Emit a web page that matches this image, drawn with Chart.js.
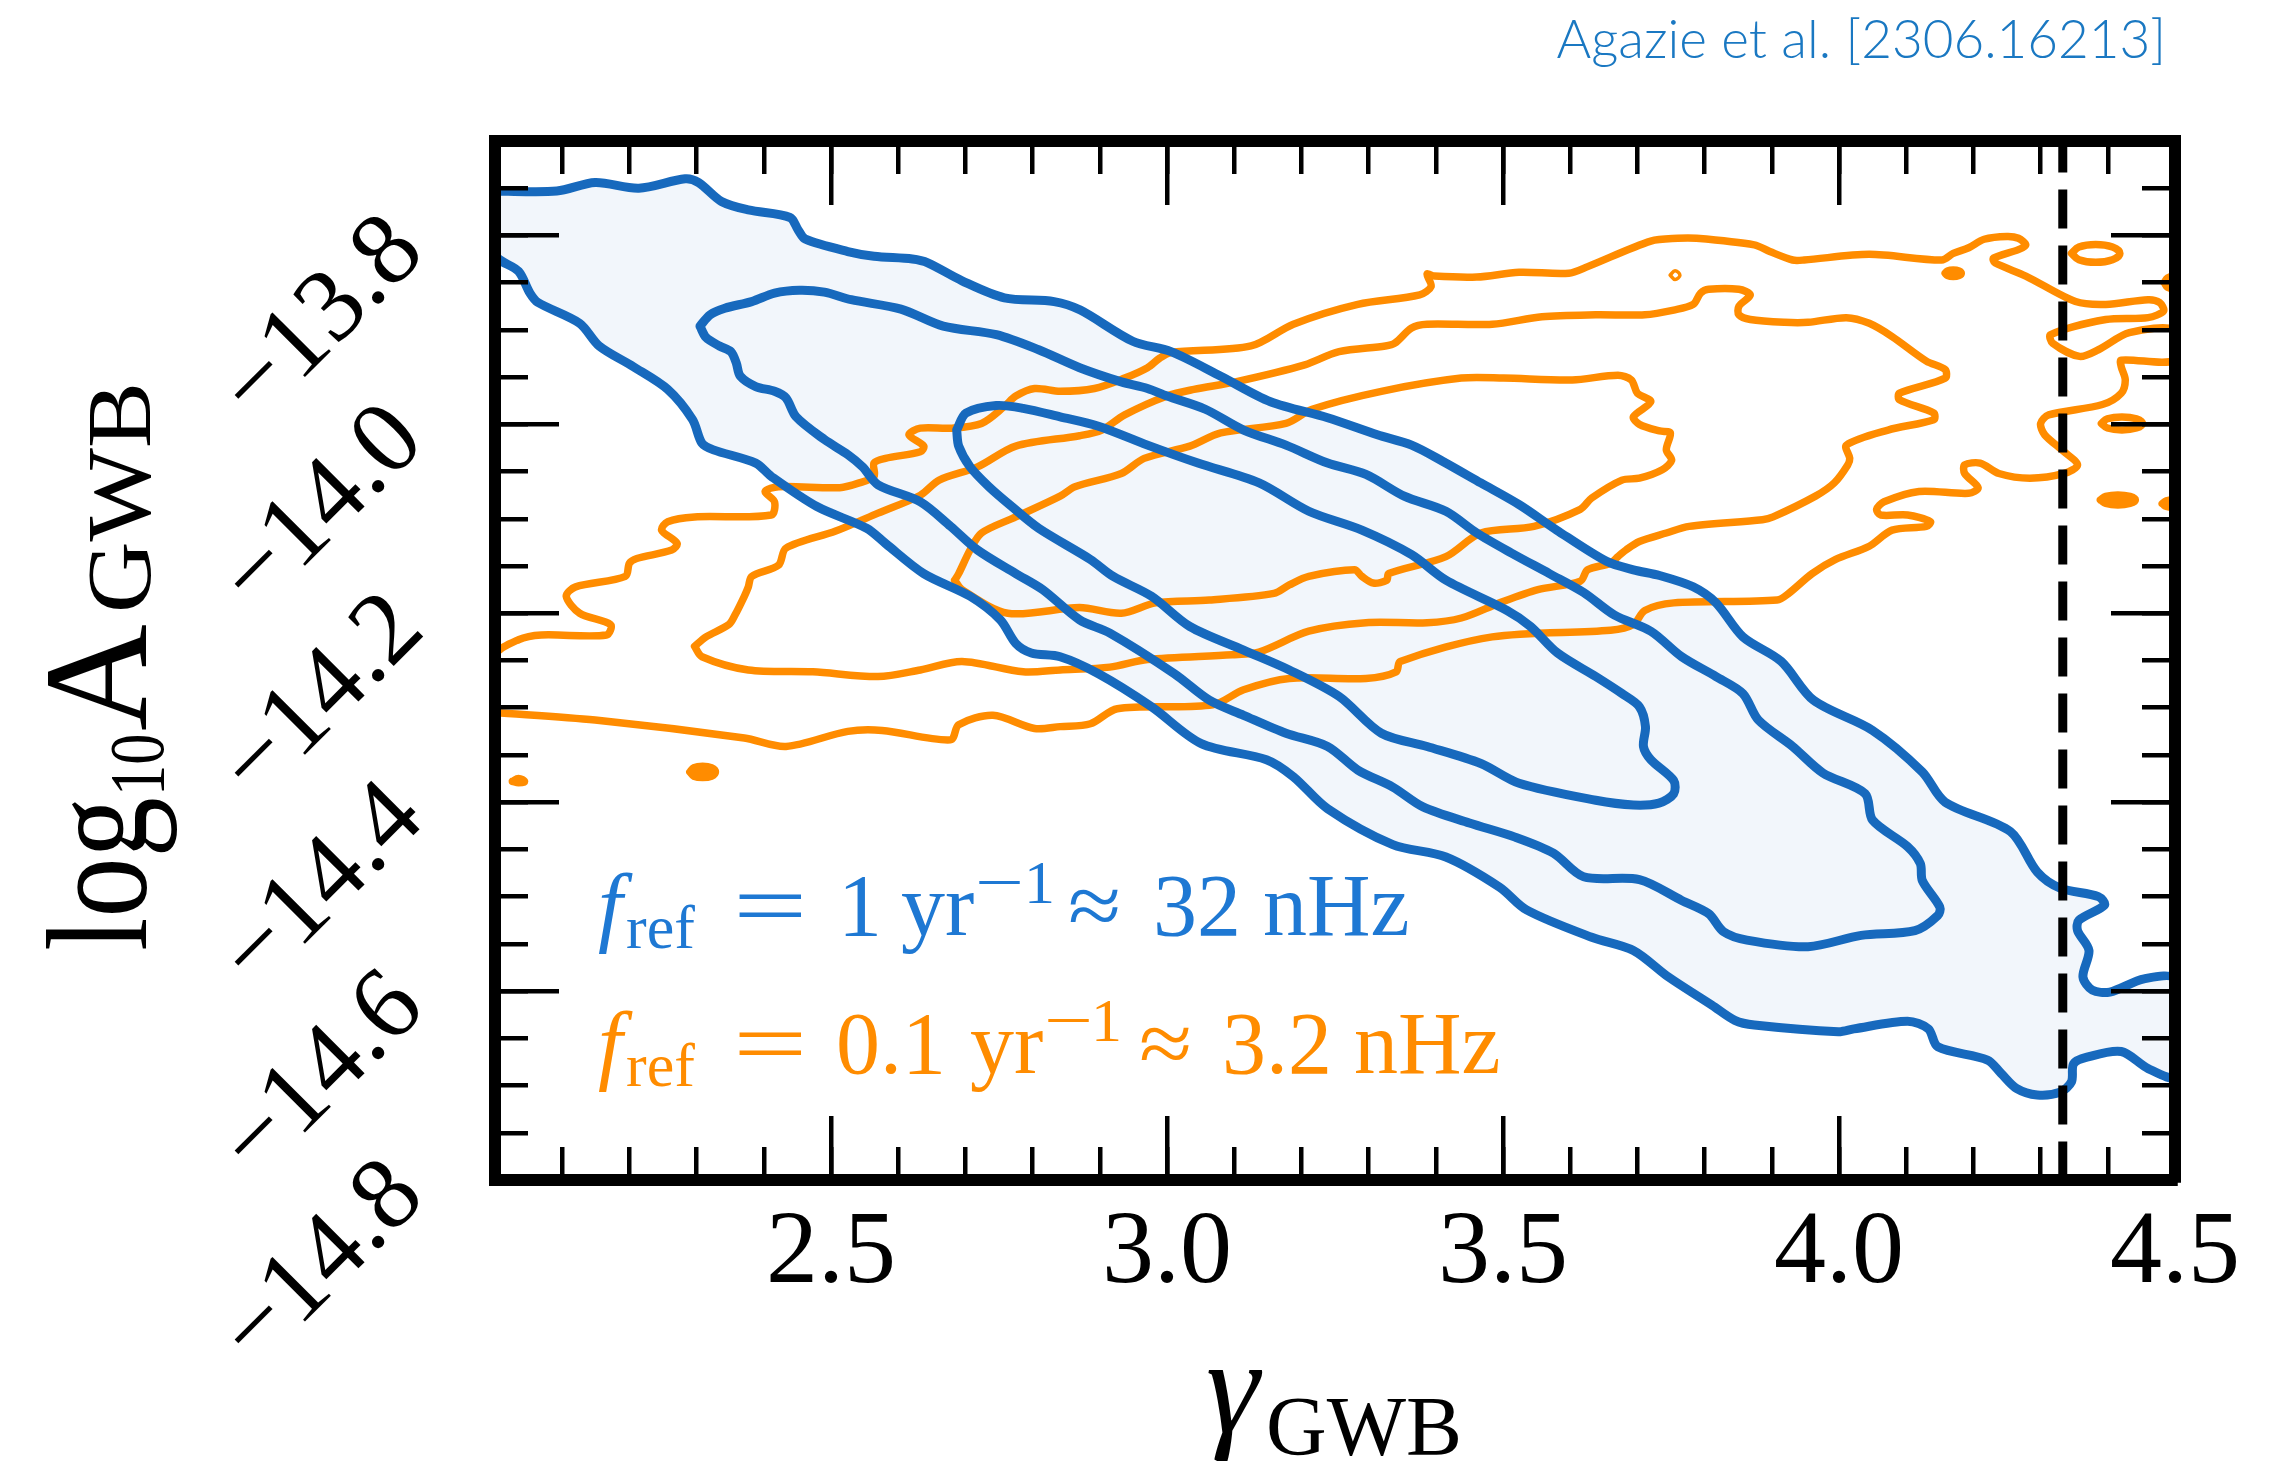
<!DOCTYPE html>
<html>
<head>
<meta charset="utf-8">
<title>GWB amplitude vs spectral index</title>
<script src="https://cdn.jsdelivr.net/npm/chart.js@4.4.1/dist/chart.umd.min.js"></script>
<style>
  html, body { margin: 0; padding: 0; background: #fff; }
  #wrap { width: 2295px; height: 1470px; }
</style>
</head>
<body>
<div id="wrap"><canvas id="chart" width="2295" height="1470"></canvas></div>
<script>
/* ------------------ Axis ranges & tick labels ------------------ */
const gammaRange  = [2.0, 4.5];
const log10ARange = [-14.8, -13.7];
const gammaTicks  = [2.5, 3.0, 3.5, 4.0, 4.5];
const log10ATicks = [-13.8, -14.0, -14.2, -14.4, -14.6, -14.8];
const gammaBound  = 4.333;   // dashed vertical reference line

/* ------------------ Contours, f_ref = 1/yr (blue) ------------------ */
// points are [gamma, log10 A]
const blueOuter = [
  [2.0,-13.753],[2.092,-13.753],[2.149,-13.744],[2.214,-13.750],[2.283,-13.740],[2.303,-13.744],
  [2.337,-13.764],[2.377,-13.773],[2.439,-13.781],[2.451,-13.794],[2.462,-13.804],[2.525,-13.817],
  [2.564,-13.822],[2.621,-13.825],[2.644,-13.829],[2.695,-13.848],[2.758,-13.866],[2.832,-13.870],
  [2.871,-13.879],[2.949,-13.912],[3.006,-13.923],[3.080,-13.949],[3.154,-13.976],[3.239,-13.993],
  [3.313,-14.011],[3.364,-14.022],[3.410,-14.039],[3.467,-14.062],[3.524,-14.085],[3.580,-14.112],
  [3.654,-14.145],[3.694,-14.154],[3.733,-14.160],[3.783,-14.172],[3.817,-14.189],[3.857,-14.225],
  [3.914,-14.251],[3.962,-14.292],[4.050,-14.324],[4.124,-14.368],[4.158,-14.400],[4.255,-14.431],
  [4.295,-14.474],[4.329,-14.491],[4.386,-14.500],[4.395,-14.509],[4.357,-14.525],[4.355,-14.536],
  [4.372,-14.557],[4.363,-14.585],[4.377,-14.599],[4.403,-14.601],[4.454,-14.587],[4.5,-14.588],
  [4.5,-14.690],[4.460,-14.682],[4.420,-14.664],[4.369,-14.670],[4.349,-14.677],[4.346,-14.696],
  [4.329,-14.707],[4.295,-14.710],[4.264,-14.703],[4.241,-14.687],[4.221,-14.673],[4.147,-14.659],
  [4.133,-14.640],[4.102,-14.632],[4.022,-14.640],[3.999,-14.643],[3.874,-14.636],[3.845,-14.631],
  [3.811,-14.615],[3.746,-14.585],[3.694,-14.557],[3.632,-14.543],[3.535,-14.514],[3.495,-14.490],
  [3.415,-14.458],[3.336,-14.445],[3.239,-14.407],[3.188,-14.373],[3.148,-14.355],[3.051,-14.338],
  [2.977,-14.299],[2.898,-14.264],[2.841,-14.246],[2.798,-14.242],[2.775,-14.232],[2.752,-14.207],
  [2.707,-14.182],[2.638,-14.158],[2.581,-14.126],[2.553,-14.110],[2.479,-14.087],[2.411,-14.055],
  [2.388,-14.041],[2.325,-14.027],[2.308,-14.020],[2.294,-13.995],[2.257,-13.963],[2.206,-13.939],
  [2.155,-13.917],[2.126,-13.893],[2.064,-13.871],[2.052,-13.861],[2.035,-13.838],[2.0,-13.820],
  [2.0,-13.753]
];
const blueMiddle = [
  [2.305,-13.896],[2.320,-13.884],[2.342,-13.877],[2.382,-13.870],[2.416,-13.861],[2.453,-13.858],
  [2.490,-13.860],[2.530,-13.868],[2.604,-13.878],[2.667,-13.896],[2.746,-13.905],[2.809,-13.921],
  [2.870,-13.940],[2.932,-13.955],[2.971,-13.962],[3.000,-13.970],[3.057,-13.984],[3.114,-14.006],
  [3.177,-14.022],[3.239,-14.041],[3.296,-14.053],[3.353,-14.076],[3.415,-14.092],[3.461,-14.115],
  [3.512,-14.136],[3.569,-14.158],[3.620,-14.178],[3.666,-14.202],[3.720,-14.219],[3.766,-14.246],
  [3.817,-14.267],[3.857,-14.285],[3.880,-14.313],[3.931,-14.341],[3.976,-14.369],[4.039,-14.391],
  [4.050,-14.419],[4.102,-14.447],[4.121,-14.465],[4.124,-14.483],[4.150,-14.511],[4.147,-14.520],
  [4.113,-14.536],[4.033,-14.541],[3.954,-14.553],[3.863,-14.546],[3.828,-14.537],[3.806,-14.518],
  [3.766,-14.504],[3.703,-14.482],[3.620,-14.479],[3.575,-14.454],[3.518,-14.437],[3.450,-14.422],
  [3.381,-14.405],[3.336,-14.384],[3.284,-14.366],[3.239,-14.341],[3.177,-14.327],[3.114,-14.308],
  [3.063,-14.292],[3.011,-14.264],[2.915,-14.221],[2.870,-14.207],[2.815,-14.175],[2.775,-14.158],
  [2.718,-14.133],[2.678,-14.108],[2.633,-14.082],[2.570,-14.064],[2.547,-14.045],[2.525,-14.032],
  [2.490,-14.016],[2.448,-13.992],[2.433,-13.972],[2.416,-13.965],[2.388,-13.960],[2.365,-13.949],
  [2.359,-13.935],[2.351,-13.923],[2.334,-13.917],[2.314,-13.908],[2.305,-13.896]
];
const blueInner = [
  [2.687,-14.006],[2.701,-13.988],[2.746,-13.980],[2.786,-13.983],[2.841,-13.992],[2.898,-14.002],
  [2.971,-14.022],[3.046,-14.041],[3.137,-14.062],[3.211,-14.092],[3.290,-14.112],[3.364,-14.138],
  [3.415,-14.165],[3.506,-14.197],[3.541,-14.214],[3.581,-14.242],[3.638,-14.267],[3.677,-14.285],
  [3.703,-14.299],[3.712,-14.320],[3.709,-14.341],[3.720,-14.355],[3.754,-14.377],[3.754,-14.391],
  [3.732,-14.401],[3.694,-14.403],[3.638,-14.398],[3.524,-14.380],[3.467,-14.359],[3.387,-14.341],
  [3.319,-14.327],[3.256,-14.288],[3.182,-14.260],[3.114,-14.239],[3.034,-14.214],[2.977,-14.182],
  [2.920,-14.161],[2.886,-14.143],[2.809,-14.110],[2.769,-14.087],[2.735,-14.066],[2.707,-14.045],
  [2.690,-14.023],[2.687,-14.006]
];

/* ------------------ Contours, f_ref = 0.1/yr (orange) ------------------ */
const orangeOuter = [
  [2.0,-14.305],[2.149,-14.313],[2.371,-14.332],[2.433,-14.341],[2.525,-14.325],[2.576,-14.324],
  [2.678,-14.334],[2.690,-14.318],[2.741,-14.308],[2.803,-14.322],[2.841,-14.320],[2.886,-14.317],
  [2.926,-14.301],[3.068,-14.297],[3.114,-14.281],[3.182,-14.269],[3.296,-14.269],[3.341,-14.262],
  [3.347,-14.251],[3.484,-14.225],[3.660,-14.218],[3.694,-14.212],[3.711,-14.197],[3.754,-14.189],
  [3.908,-14.186],[3.925,-14.179],[3.960,-14.158],[3.995,-14.143],[4.045,-14.129],[4.079,-14.112],
  [4.130,-14.108],[4.136,-14.103],[4.102,-14.096],[4.062,-14.096],[4.056,-14.090],[4.067,-14.082],
  [4.119,-14.071],[4.193,-14.073],[4.207,-14.067],[4.187,-14.052],[4.187,-14.043],[4.210,-14.041],
  [4.238,-14.052],[4.284,-14.057],[4.335,-14.052],[4.355,-14.043],[4.335,-14.029],[4.306,-14.011],
  [4.300,-13.999],[4.312,-13.990],[4.392,-13.979],[4.420,-13.967],[4.426,-13.953],[4.420,-13.939],
  [4.420,-13.932],[4.5,-13.932],[4.5,-13.900],[4.432,-13.903],[4.386,-13.921],[4.358,-13.928],
  [4.318,-13.914],[4.315,-13.905],[4.397,-13.889],[4.460,-13.887],[4.483,-13.880],[4.477,-13.871],
  [4.460,-13.868],[4.397,-13.873],[4.352,-13.870],[4.278,-13.843],[4.232,-13.829],[4.230,-13.824],
  [4.267,-13.815],[4.278,-13.810],[4.267,-13.803],[4.250,-13.801],[4.216,-13.804],[4.193,-13.813],
  [4.170,-13.819],[4.153,-13.826],[4.045,-13.820],[3.948,-13.826],[3.931,-13.826],[3.897,-13.817],
  [3.874,-13.810],[3.788,-13.803],[3.760,-13.803],[3.720,-13.806],[3.626,-13.833],[3.598,-13.840],
  [3.524,-13.839],[3.461,-13.844],[3.398,-13.843],[3.387,-13.841],[3.393,-13.854],[3.376,-13.863],
  [3.284,-13.873],[3.188,-13.894],[3.125,-13.917],[3.006,-13.924],[2.989,-13.930],[2.971,-13.940],
  [2.937,-13.951],[2.892,-13.962],[2.841,-13.965],[2.803,-13.962],[2.775,-13.970],[2.758,-13.981],
  [2.724,-13.999],[2.678,-14.004],[2.633,-14.004],[2.616,-14.011],[2.638,-14.023],[2.633,-14.029],
  [2.581,-14.036],[2.564,-14.041],[2.564,-14.055],[2.542,-14.062],[2.513,-14.067],[2.422,-14.066],
  [2.402,-14.071],[2.416,-14.082],[2.411,-14.096],[2.297,-14.098],[2.257,-14.103],[2.248,-14.112],
  [2.271,-14.126],[2.263,-14.133],[2.211,-14.142],[2.200,-14.147],[2.194,-14.161],[2.120,-14.172],
  [2.106,-14.182],[2.126,-14.200],[2.172,-14.212],[2.166,-14.223],[2.069,-14.223],[2.035,-14.228],
  [2.0,-14.245],[2.0,-14.305]
];
const orangeMiddle = [
  [2.297,-14.235],[2.314,-14.225],[2.348,-14.212],[2.357,-14.202],[2.371,-14.182],[2.377,-14.172],
  [2.382,-14.161],[2.422,-14.149],[2.433,-14.131],[2.507,-14.113],[2.570,-14.094],[2.633,-14.075],
  [2.661,-14.059],[2.718,-14.045],[2.775,-14.023],[2.870,-14.012],[2.903,-14.006],[2.937,-13.990],
  [3.000,-13.970],[3.040,-13.963],[3.102,-13.955],[3.205,-13.937],[3.256,-13.923],[3.325,-13.917],
  [3.339,-13.914],[3.364,-13.898],[3.387,-13.894],[3.484,-13.894],[3.558,-13.886],[3.638,-13.884],
  [3.711,-13.884],[3.754,-13.879],[3.783,-13.873],[3.794,-13.861],[3.806,-13.857],[3.851,-13.857],
  [3.868,-13.863],[3.851,-13.875],[3.851,-13.884],[3.868,-13.889],[3.919,-13.892],[3.954,-13.892],
  [4.011,-13.887],[4.045,-13.893],[4.079,-13.907],[4.130,-13.933],[4.158,-13.942],[4.158,-13.951],
  [4.090,-13.967],[4.090,-13.974],[4.141,-13.988],[4.141,-13.995],[4.073,-14.006],[4.011,-14.022],
  [4.016,-14.036],[4.013,-14.043],[3.993,-14.062],[3.965,-14.076],[3.902,-14.098],[3.886,-14.101],
  [3.777,-14.108],[3.743,-14.115],[3.703,-14.124],[3.683,-14.133],[3.671,-14.140],[3.660,-14.147],
  [3.626,-14.154],[3.615,-14.166],[3.552,-14.175],[3.495,-14.189],[3.438,-14.205],[3.387,-14.210],
  [3.296,-14.210],[3.211,-14.219],[3.137,-14.241],[3.097,-14.244],[2.971,-14.249],[2.915,-14.257],
  [2.841,-14.260],[2.786,-14.262],[2.695,-14.251],[2.633,-14.260],[2.570,-14.267],[2.473,-14.262],
  [2.377,-14.260],[2.308,-14.246],[2.297,-14.235]
];
const orangeInner = [
  [2.684,-14.165],[2.690,-14.158],[2.707,-14.133],[2.724,-14.115],[2.775,-14.098],[2.841,-14.076],
  [2.863,-14.066],[2.932,-14.052],[2.966,-14.036],[3.034,-14.023],[3.080,-14.009],[3.177,-13.999],
  [3.216,-13.984],[3.319,-13.965],[3.438,-13.951],[3.501,-13.951],[3.603,-13.953],[3.671,-13.948],
  [3.691,-13.953],[3.700,-13.967],[3.720,-13.976],[3.694,-13.992],[3.703,-14.000],[3.733,-14.007],
  [3.749,-14.009],[3.743,-14.027],[3.751,-14.038],[3.737,-14.048],[3.703,-14.057],[3.677,-14.059],
  [3.632,-14.078],[3.615,-14.090],[3.546,-14.108],[3.467,-14.115],[3.415,-14.140],[3.330,-14.158],
  [3.327,-14.165],[3.307,-14.168],[3.290,-14.161],[3.279,-14.154],[3.211,-14.161],[3.182,-14.170],
  [3.159,-14.179],[3.063,-14.186],[2.983,-14.189],[2.932,-14.200],[2.870,-14.194],[2.763,-14.200],
  [2.695,-14.175],[2.684,-14.165]
];
// small isolated islands of the orange contours
const orangeIslandsFilled = [
  [[2.290,-14.368],[2.296,-14.3635],[2.309,-14.362],[2.322,-14.3635],[2.328,-14.368],[2.322,-14.3725],[2.309,-14.374],[2.296,-14.3725],[2.290,-14.368]],
  [[2.026,-14.378],[2.035,-14.3748],[2.044,-14.378],[2.035,-14.3795],[2.026,-14.378]],
  [[4.158,-13.840],[4.1615,-13.8375],[4.170,-13.8365],[4.1785,-13.8375],[4.182,-13.840],[4.1785,-13.8425],[4.170,-13.8435],[4.1615,-13.8425],[4.158,-13.840]],
  [[4.484,-13.850],[4.489,-13.845],[4.500,-13.843],[4.511,-13.845],[4.516,-13.850],[4.511,-13.855],[4.500,-13.857],[4.489,-13.855],[4.484,-13.850]],
  [[4.389,-14.080],[4.397,-14.0763],[4.415,-14.0747],[4.433,-14.0763],[4.441,-14.080],[4.433,-14.0837],[4.415,-14.0853],[4.397,-14.0837],[4.389,-14.080]],
  [[4.481,-14.084],[4.487,-14.081],[4.500,-14.0798],[4.513,-14.081],[4.519,-14.084],[4.513,-14.087],[4.500,-14.0882],[4.487,-14.087],[4.481,-14.084]]
];
const orangeIslandsOpen = [
  [[4.346,-13.819],[4.357,-13.8123],[4.382,-13.8095],[4.407,-13.8123],[4.418,-13.819],[4.407,-13.8257],[4.382,-13.8285],[4.357,-13.8257],[4.346,-13.819]],
  [[4.3905,-13.999],[4.3995,-13.9941],[4.421,-13.9921],[4.4425,-13.9941],[4.4515,-13.999],[4.4425,-14.0039],[4.421,-14.0059],[4.3995,-14.0039],[4.3905,-13.999]]
];
const orangeDot = [[3.7487,-13.842],[3.756,-13.8373],[3.7633,-13.842],[3.756,-13.8467],[3.7487,-13.842]];

/* ------------------ Styling ------------------ */
const SERIF = "'Liberation Serif', 'Times New Roman', serif";
const BLACK = '#000000';
const BLUE = '#1769BD';
const BLUE_FILL = '#F2F6FB';
const BLUE_TEXT = '#1E78D3';
const ORANGE = '#FF8C00';
const CITE_BLUE = '#1A78C2';
const BLUE_W = 9;
const ORANGE_W = 7.5;

function contour(data, color, width, order, extra) {
  return Object.assign({
    data, showLine: true, borderColor: color, borderWidth: width,
    pointRadius: 0, pointHoverRadius: 0, tension: 0.3, fill: false, order,
    borderJoinStyle: 'round', borderCapStyle: 'round'
  }, extra || {});
}

const datasets = [
  contour(blueOuter, 'rgba(0,0,0,0)', 0, 10, { fill: 'shape', backgroundColor: BLUE_FILL }),
  contour(orangeOuter, ORANGE, ORANGE_W, 5),
  contour(orangeMiddle, ORANGE, ORANGE_W, 5),
  contour(orangeInner, ORANGE, ORANGE_W, 5),
  ...orangeIslandsFilled.map(d => contour(d, ORANGE, ORANGE_W, 5, { fill: 'shape', backgroundColor: ORANGE, tension: 0.4 })),
  ...orangeIslandsOpen.map(d => contour(d, ORANGE, ORANGE_W, 5, { tension: 0.4 })),
  contour(orangeDot, ORANGE, 3.5, 5, { tension: 0.4 }),
  contour(blueOuter, BLUE, BLUE_W, 2),
  contour(blueMiddle, BLUE, BLUE_W, 2),
  contour(blueInner, BLUE, BLUE_W, 2),
  contour([[gammaBound, log10ARange[1]], [gammaBound, log10ARange[0]]], BLACK, 9, 0,
          { tension: 0, borderDash: [39, 17], borderDashOffset: 7.5, borderCapStyle: 'butt' })
];

/* ------------------ Axes: frame + in-pointing major/minor ticks ------------------ */
function frameAxis(position, o) {
  const horizontal = position === 'top' || position === 'bottom';
  const range = horizontal ? gammaRange : log10ARange;
  const axis = {
    type: 'linear', position, min: range[0], max: range[1], weight: o.weight || 0,
    ticks: o.ticks || { display: false, stepSize: o.step },
    grid: { display: true, drawOnChartArea: false, drawTicks: true, tickLength: -o.tick,
            tickWidth: 4.5, lineWidth: 4.5, tickColor: BLACK, color: BLACK, z: 1 },
    border: { display: !!o.frame, width: 12, color: BLACK, z: 1 },
    afterFit: (s) => {
      if (horizontal) s.height = o.size || 0; else s.width = o.size || 0;
      s.paddingLeft = s.paddingRight = s.paddingTop = s.paddingBottom = 0;
    }
  };
  if (o.major) axis.afterBuildTicks = (s) => { s.ticks = o.major.map(v => ({ value: v })); };
  return axis;
}

const scales = {
  x: frameAxis('bottom', {
    major: gammaTicks, tick: 64, frame: true, size: 290,
    ticks: { display: true, autoSkip: false, maxRotation: 0, minRotation: 0, padding: 76, color: BLACK,
             font: { family: SERIF, size: 104 }, callback: (v) => Number(v).toFixed(1) }
  }),
  xMinor: frameAxis('bottom', { step: 0.1, tick: 33, weight: -1 }),
  xTop: frameAxis('top', { major: gammaTicks, tick: 64, frame: true }),
  xTopMinor: frameAxis('top', { step: 0.1, tick: 33, weight: -1 }),
  y: frameAxis('left', {
    major: log10ATicks, tick: 64, frame: true, size: 495,
    ticks: { display: true, autoSkip: false, minRotation: 45, maxRotation: 45, padding: 151, color: BLACK,
             font: { family: SERIF, size: 104 }, callback: (v) => '\u2212' + Math.abs(v).toFixed(1) }
  }),
  yMinor: frameAxis('left', { step: 0.05, tick: 33, weight: -1 }),
  yRight: frameAxis('right', { major: log10ATicks, tick: 64, frame: true }),
  yRightMinor: frameAxis('right', { step: 0.05, tick: 33, weight: -1 })
};

/* ------------------ Text: axis titles, legend lines, citation ------------------ */
// each run: text, x of its origin, font size, optional italic, baseline shift dy, horizontal stretch sx
function drawRuns(ctx, runs, baseY, color) {
  ctx.fillStyle = color;
  ctx.textAlign = 'left';
  ctx.textBaseline = 'alphabetic';
  for (const r of runs) {
    ctx.save();
    ctx.font = (r.italic ? 'italic ' : '') + r.size + 'px ' + SERIF;
    ctx.translate(r.x, baseY + (r.dy || 0));
    ctx.scale(r.sx || 1, 1);
    ctx.fillText(r.t, 0, 0);
    ctx.restore();
  }
}

const legendBlue = [
  { t: 'f', x: 598, size: 88, italic: true },
  { t: 'ref', x: 626, size: 62, dy: 13 },
  { t: '=', x: 733, size: 88, sx: 1.5 },
  { t: '1', x: 838, size: 88 },
  { t: 'yr', x: 901, size: 88 },
  { t: '\u2212', x: 975, size: 62, dy: -32, sx: 1.4 },
  { t: '1', x: 1024, size: 62, dy: -32 },
  { t: '\u2248', x: 1068, size: 88, sx: 1.1 },
  { t: '32 nHz', x: 1153, size: 88 }
];
const legendOrange = [
  { t: 'f', x: 598, size: 88, italic: true },
  { t: 'ref', x: 626, size: 62, dy: 13 },
  { t: '=', x: 733, size: 88, sx: 1.5 },
  { t: '0.1', x: 836, size: 88 },
  { t: 'yr', x: 970, size: 88 },
  { t: '\u2212', x: 1044, size: 62, dy: -32, sx: 1.4 },
  { t: '1', x: 1091, size: 62, dy: -32 },
  { t: '\u2248', x: 1139, size: 88, sx: 1.1 },
  { t: '3.2 nHz', x: 1222, size: 88 }
];
const xTitle = [
  { t: '\u03B3', x: 1206, size: 135, italic: true },
  { t: 'GWB', x: 1266, size: 84, dy: 23 }
];
const yTitle = [
  { t: 'log', x: 0, size: 145, sx: 0.83 },
  { t: '10', x: 155, size: 78, dy: 17, sx: 0.8 },
  { t: 'A', x: 220, size: 148 },
  { t: 'GWB', x: 338, size: 90, dy: 4, sx: 1.1 }
];

const textLayer = {
  id: 'textLayer',
  afterDraw(chart) {
    const ctx = chart.ctx;
    ctx.save();
    drawRuns(ctx, legendBlue, 935, BLUE_TEXT);
    drawRuns(ctx, legendOrange, 1073, ORANGE);
    drawRuns(ctx, xTitle, 1432, BLACK);

    ctx.save();
    ctx.translate(146, 951);
    ctx.rotate(-Math.PI / 2);
    drawRuns(ctx, yTitle, 0, BLACK);
    ctx.restore();

    ctx.font = "300 53px Lato, 'Open Sans', sans-serif";
    ctx.fillStyle = CITE_BLUE;
    ctx.textAlign = 'right';
    ctx.textBaseline = 'alphabetic';
    ctx.fillText('Agazie et al. [2306.16213]', 2166, 58);
    ctx.restore();
  }
};

new Chart(document.getElementById('chart'), {
  type: 'scatter',
  data: { datasets },
  options: {
    responsive: false,
    animation: false,
    devicePixelRatio: 1,
    layout: { padding: { top: 141, right: 120, bottom: 0, left: 0 } },
    plugins: { legend: { display: false }, tooltip: { enabled: false } },
    events: [],
    scales
  },
  plugins: [textLayer]
});
</script>
</body>
</html>
